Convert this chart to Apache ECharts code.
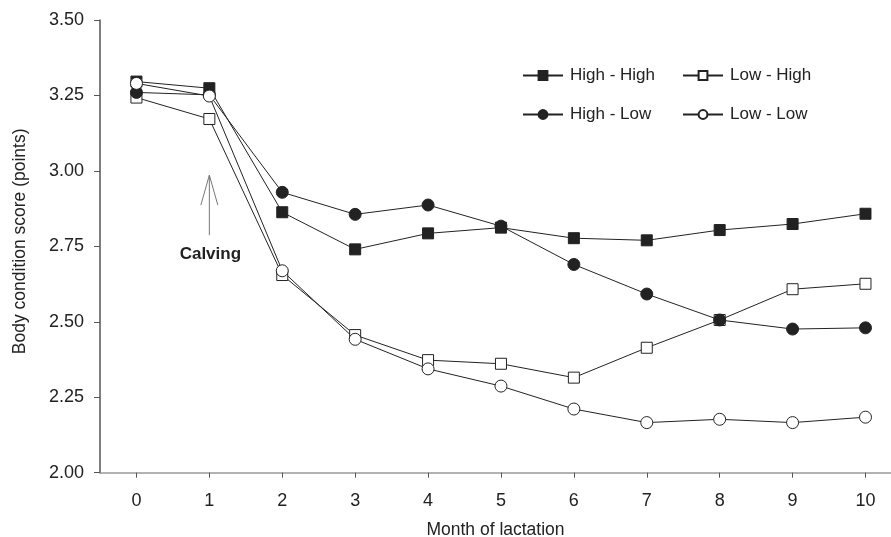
<!DOCTYPE html>
<html>
<head>
<meta charset="utf-8">
<script src="https://cdn.jsdelivr.net/npm/echarts@6/dist/echarts.min.js"></script>
<style>
html,body{margin:0;padding:0;background:#fff;}
#chart{width:891px;height:537px;}
</style>
</head>
<body>
<div id="chart"></div>
<script>
const months = [0, 1, 2, 3, 4, 5, 6, 7, 8, 9, 10];
const yTicks = [2.00, 2.25, 2.50, 2.75, 3.00, 3.25, 3.50];
const highHigh = [3.296, 3.274, 2.863, 2.740, 2.793, 2.812, 2.777, 2.770, 2.804, 2.824, 2.858];
const lowHigh  = [3.243, 3.172, 2.655, 2.456, 2.373, 2.361, 2.315, 2.414, 2.506, 2.608, 2.626];
const highLow  = [3.260, 3.252, 2.929, 2.856, 2.887, 2.817, 2.690, 2.592, 2.506, 2.476, 2.480];
const lowLow   = [3.290, 3.248, 2.669, 2.442, 2.344, 2.287, 2.211, 2.166, 2.177, 2.166, 2.184];
const seriesNames = ['High - High', 'Low - High', 'High - Low', 'Low - Low'];
const calvingMonth = 1;

const FONT = 'Liberation Sans, Arial, sans-serif';
const INK = '#222';

function pairs(vals) { return months.map((m, i) => [m, vals[i]]); }

function mkSeries(name, vals, symbol, filled, size) {
  return {
    name: name,
    type: 'line',
    data: pairs(vals),
    symbol: symbol,
    symbolSize: size,
    showAllSymbol: true,
    lineStyle: { color: INK, width: 1 },
    itemStyle: { color: filled ? INK : '#fff', borderColor: INK, borderWidth: 1 },
    emphasis: { disabled: true },
    animation: false
  };
}

const chart = echarts.init(document.getElementById('chart'), null, { renderer: 'canvas' });
const legendCommon = {
  orient: 'vertical',
  top: 67,
  itemWidth: 40,
  itemHeight: 11,
  itemGap: 22,
  textStyle: { fontFamily: FONT, fontSize: 17, color: INK, padding: [0, 0, 0, 2] },
  padding: 0,
  selectedMode: false
};
chart.setOption({
  animation: false,
  grid: { left: 100, right: 0, top: 20, bottom: 64.3, outerBoundsMode: 'none', containLabel: false },
  legend: [
    Object.assign({}, legendCommon, { left: 522, data: [seriesNames[0], seriesNames[2]] }),
    Object.assign({}, legendCommon, { left: 682, data: [seriesNames[1], seriesNames[3]] })
  ],
  xAxis: {
    type: 'value',
    min: -0.5,
    max: 10.35,
    name: 'Month of lactation',
    nameLocation: 'middle',
    nameGap: 48,
    nameTextStyle: { fontFamily: FONT, fontSize: 17.5, color: INK },
    axisLine: { onZero: false, lineStyle: { color: '#999', width: 1.5 } },
    axisTick: { show: true, length: 5, lineStyle: { color: '#555' }, customValues: months },
    axisLabel: { fontFamily: FONT, fontSize: 18, color: INK, margin: 19, customValues: months },
    splitLine: { show: false }
  },
  yAxis: {
    type: 'value',
    min: 2.0,
    max: 3.5,
    interval: 0.25,
    name: 'Body condition score (points)',
    nameLocation: 'middle',
    nameGap: 71,
    nameTextStyle: { fontFamily: FONT, fontSize: 17.5, color: INK, padding: [0, 0, 0, 10] },
    axisLine: { show: true, onZero: false, lineStyle: { color: '#555', width: 1.5 } },
    axisTick: { show: true, length: 6, lineStyle: { color: '#555' } },
    axisLabel: { fontFamily: FONT, fontSize: 18, color: INK, margin: 16,
      formatter: v => v.toFixed(2) },
    splitLine: { show: false }
  },
  series: [
    mkSeries(seriesNames[0], highHigh, 'rect', true, 11),
    mkSeries(seriesNames[1], lowHigh, 'rect', false, 11),
    mkSeries(seriesNames[2], highLow, 'circle', true, 12),
    mkSeries(seriesNames[3], lowLow, 'circle', false, 12)
  ]
});

function drawAnnotation() {
  const tip = chart.convertToPixel({ gridIndex: 0 }, [calvingMonth, 2.986]);
  const tail = chart.convertToPixel({ gridIndex: 0 }, [calvingMonth, 2.787]);
  const label = chart.convertToPixel({ gridIndex: 0 }, [calvingMonth, 2.724]);
  const gray = '#777';
  chart.setOption({
    graphic: [
      { type: 'line', shape: { x1: tip[0], y1: tip[1], x2: tail[0], y2: tail[1] },
        style: { stroke: gray, lineWidth: 1 }, silent: true },
      { type: 'polyline', shape: { points: [[tip[0] - 8.5, tip[1] + 30], [tip[0], tip[1]], [tip[0] + 8.5, tip[1] + 30]] },
        style: { stroke: gray, lineWidth: 1, fill: null }, silent: true },
      { type: 'text', x: label[0] + 1, y: label[1],
        style: { text: 'Calving', fontFamily: FONT, fontSize: 17, fontWeight: 'bold', fill: INK,
          align: 'center', verticalAlign: 'middle' }, silent: true }
    ]
  });
}
drawAnnotation();
</script>
</body>
</html>
